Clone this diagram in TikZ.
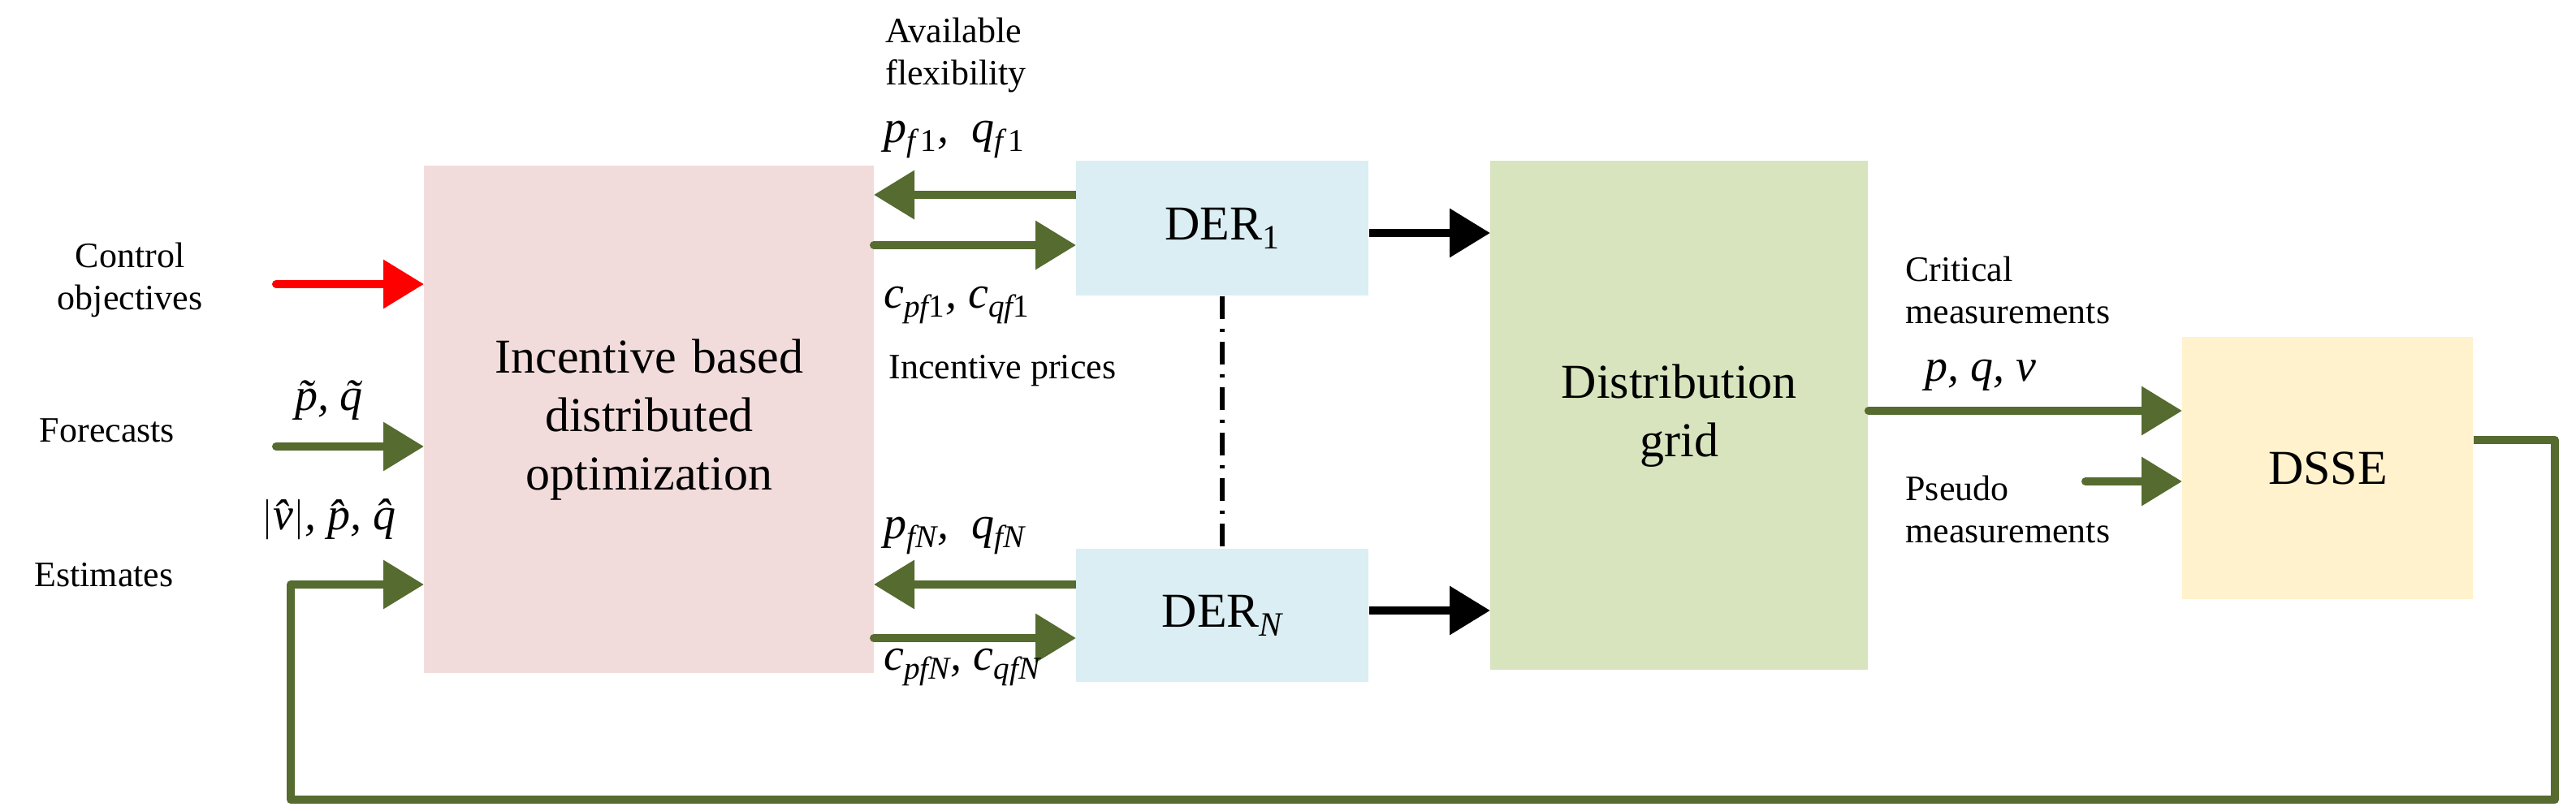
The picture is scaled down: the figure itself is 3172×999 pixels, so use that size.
\documentclass[tikz,border=0pt]{standalone}
\usepackage{fontspec}
\setmainfont{Liberation Serif}
\usetikzlibrary{arrows.meta}
\definecolor{agreen}{RGB}{85,107,47}
\definecolor{cpink}{RGB}{242,220,219}
\definecolor{cblue}{RGB}{218,238,243}
\definecolor{cgreen}{RGB}{215,228,189}
\definecolor{cyell}{RGB}{255,242,204}
\newcommand{\vi}[1]{\textit{#1}}
\newcommand{\sbi}[1]{\textsubscript{#1}}
\begin{document}
\begin{tikzpicture}[x=0.5pt,y=-0.5pt,
  box/.style={draw=none,anchor=north west,inner sep=0pt,align=center,font=\fontsize{30}{36}\selectfont},
  garr/.style={draw=agreen,line width=5pt,line cap=round,-{Triangle[length=25pt,width=29pt]},color=agreen},
  barr/.style={draw=black,line width=5pt,-{Triangle[length=25pt,width=29pt]}},
  rarr/.style={draw=red,line width=5pt,line cap=round,-{Triangle[length=25pt,width=29pt]},color=red},
  lbl/.style={font=\fontsize{22}{26}\selectfont,align=center,inner sep=0pt},
  mlbl/.style={font=\fontsize{28}{30}\selectfont\itshape,inner sep=0pt}]
\useasboundingbox (0,0) rectangle (3172,999);
\node[box,fill=cpink,minimum width=277pt,minimum height=312.5pt,text width=270pt] (opt) at (522,204) {Incentive based\\distributed\\optimization};
\node[box,fill=cblue,minimum width=180pt,minimum height=83pt] (d1) at (1325,198) {DER\textsubscript{1}};
\node[box,fill=cblue,minimum width=180pt,minimum height=82pt] (dn) at (1325,676) {DER\textsubscript{\itshape N}};
\node[box,fill=cgreen,minimum width=232.5pt,minimum height=313.5pt,text width=225pt] (grid) at (1835,198) {Distribution\\grid};
\node[box,fill=cyell,minimum width=179pt,minimum height=161.5pt] (dsse) at (2687,415) {DSSE};
% inputs
\coordinate (c0) at (340,350); \coordinate (c1) at (522,350);
\draw[rarr] (c0) -- (c1);
\coordinate (f0) at (340,550); \coordinate (f1) at (522,550);
\draw[garr] (f0) -- (f1);
% DER arrows
\coordinate (a1) at (1325,240); \coordinate (a2) at (1076,240);
\draw[garr,line cap=butt] (a1) -- (a2);
\coordinate (b1) at (1076,302); \coordinate (b2) at (1325,302);
\draw[garr] (b1) -- (b2);
\coordinate (a3) at (1325,720); \coordinate (a4) at (1076,720);
\draw[garr,line cap=butt] (a3) -- (a4);
\coordinate (b3) at (1076,786); \coordinate (b4) at (1325,786);
\draw[garr] (b3) -- (b4);
\draw[barr] (d1.east |- 0,287) -- (grid.west |- 0,287);
\draw[barr] (dn.east |- 0,752) -- (grid.west |- 0,752);
\draw[line width=3pt,dash pattern=on 14pt off 6pt on 2pt off 6pt] (d1.south) -- (dn.north);
% measurements
\draw[garr] (grid.east |- 0,506) -- (dsse.west |- 0,506);
\coordinate (ps) at (2568,593);
\draw[garr] (ps) -- (dsse.west |- 0,593);
% feedback
\draw[garr,line cap=butt,line join=round] (dsse.east |- 0,542) -- (3146,542) -- (3146,985) -- (358,985) -- (358,720) -- (opt.west |- 0,720);
% labels
\node[lbl] at (160,345) {Control\\objectives};
\node[lbl] at (132,530) {Forecasts};
\node[lbl] at (128,708) {Estimates};
\node[mlbl] at (405,493) {\~{p},\ \~{q}};
\node[mlbl] at (405,640) {$|$\^{v}$|$, \^{p}, \^{q}};
\node[lbl,anchor=west,align=left] at (1090,68) {Available\\flexibility};
\node[mlbl,anchor=west] at (1088,172) {p\sbi{f\,\upshape 1}, \ q\sbi{f\,\upshape 1}};
\node[mlbl,anchor=west] at (1088,376) {c\sbi{pf\upshape 1}, c\sbi{qf\upshape 1}};
\node[lbl,anchor=west] at (1094,457) {Incentive prices};
\node[mlbl,anchor=west] at (1088,660) {p\sbi{fN}, \ q\sbi{fN}};
\node[mlbl,anchor=west] at (1088,822) {c\sbi{pfN}, c\sbi{qfN}};
\node[lbl,anchor=west,align=left] at (2346,357) {Critical\\measurements};
\node[mlbl,anchor=west] at (2370,462) {p, q, v};
\node[lbl,anchor=west,align=left] at (2346,627) {Pseudo\\measurements};
\end{tikzpicture}
\end{document}
